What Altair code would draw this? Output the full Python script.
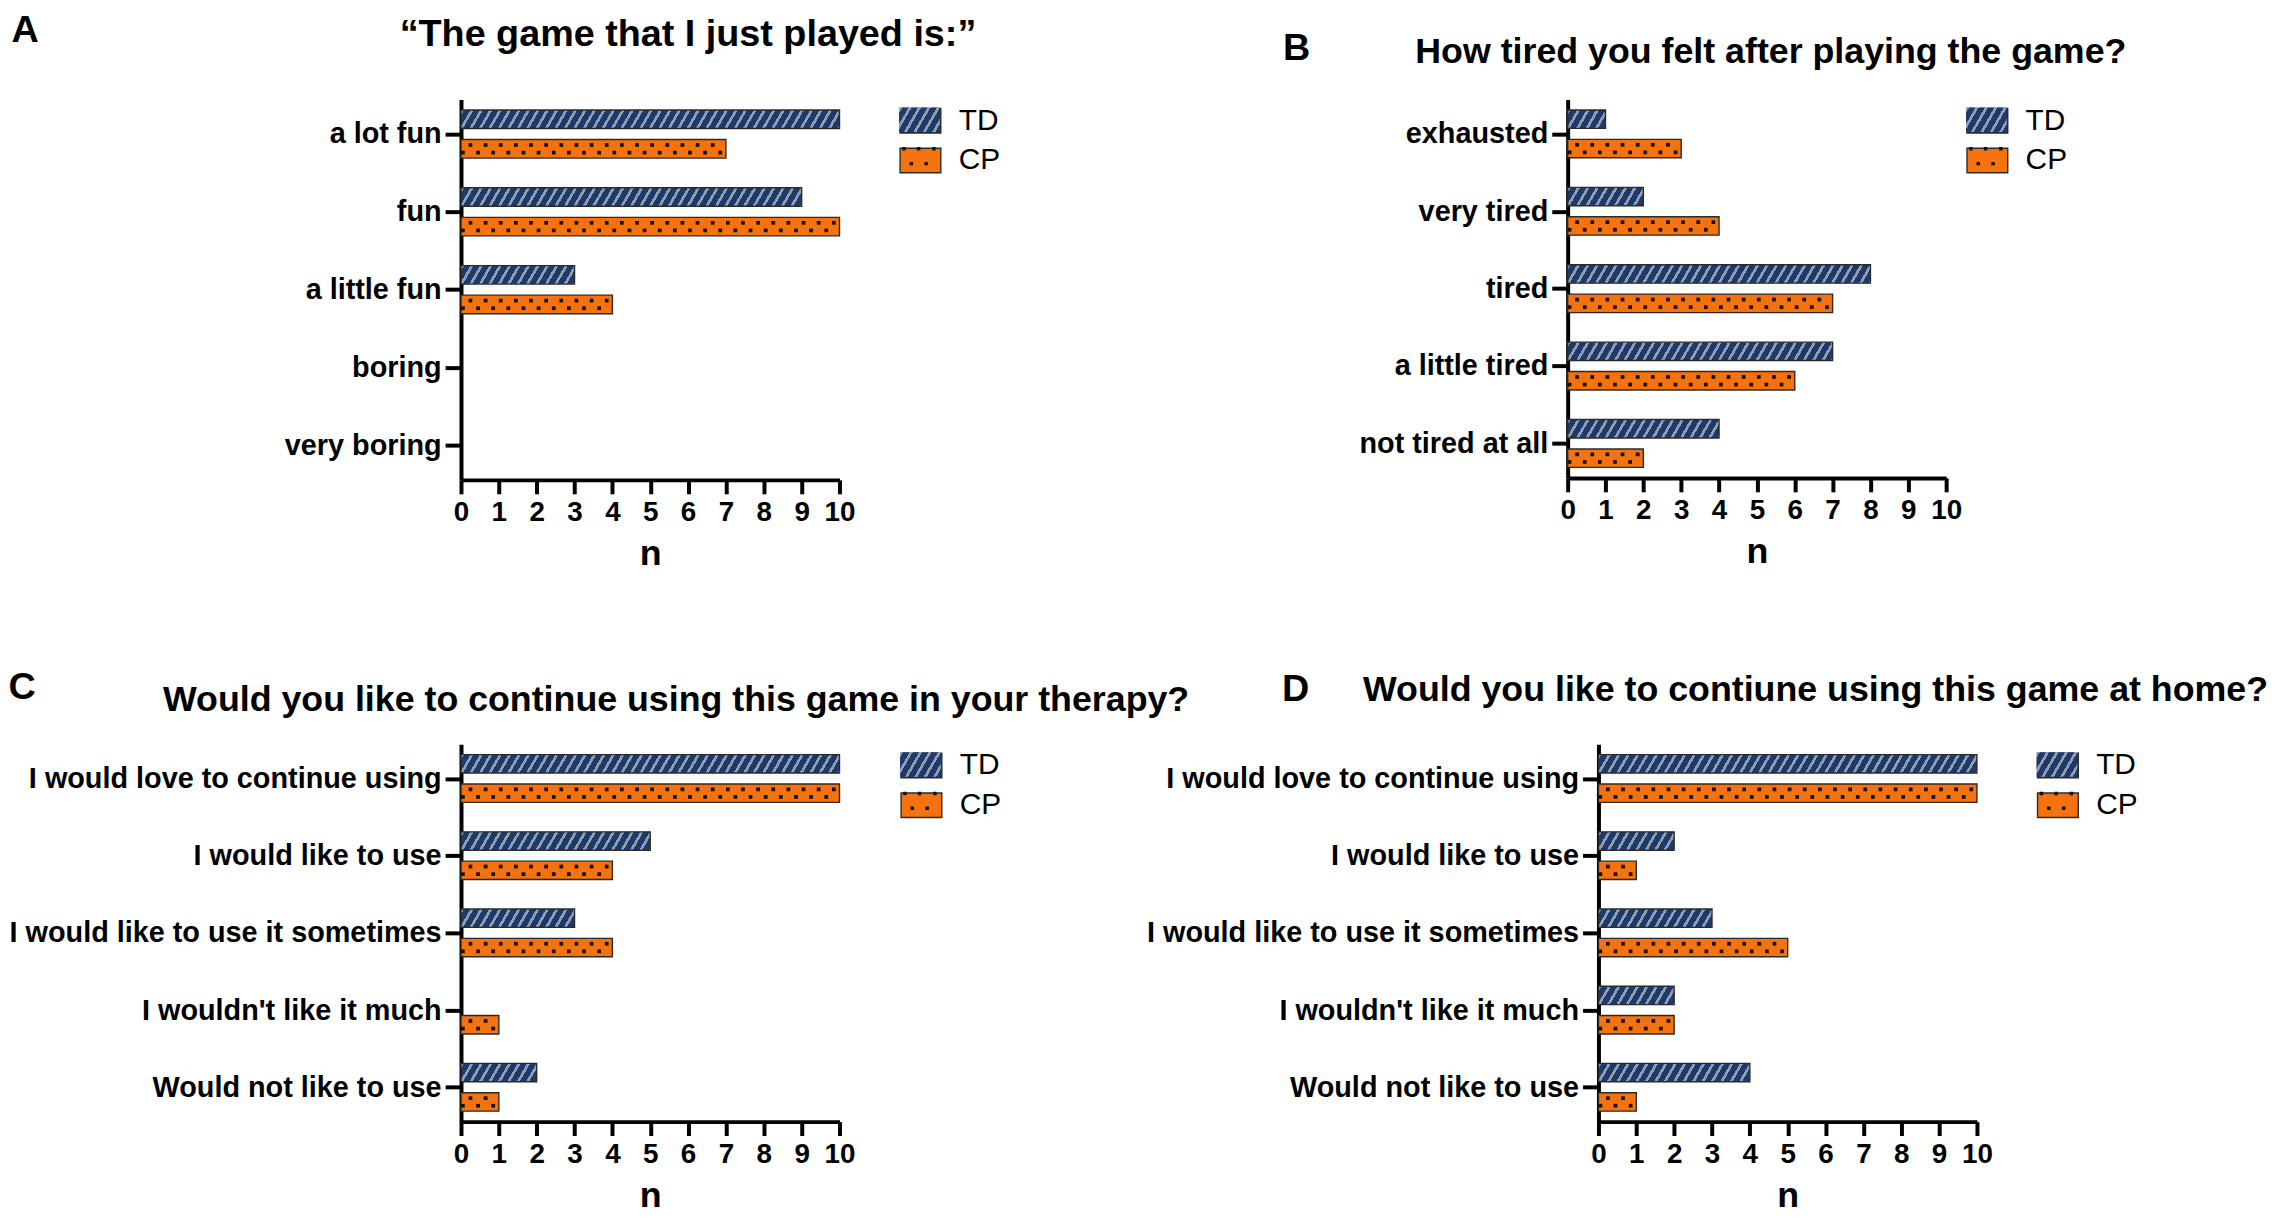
import math
import json
import altair as alt
import pandas as pd

FONT = "Liberation Sans"
NAVY = "#1d3a6e"
STRIPE = "#939dab"
ORANGE = "#f5720f"
EDGE = "#2b2b2b"
DOT = "#111111"

series = ["TD", "CP"]
x_ticks = list(range(0, 11))

# ---------------- data ----------------
a_title = "\u201cThe game that I just played is:\u201d"
a_cats = ["a lot fun", "fun", "a little fun", "boring", "very boring"]
a_td = [10, 9, 3, 0, 0]
a_cp = [7, 10, 4, 0, 0]

b_title = "How tired you felt after playing the game?"
b_cats = ["exhausted", "very tired", "tired", "a little tired", "not tired at all"]
b_td = [1, 2, 8, 7, 4]
b_cp = [3, 4, 7, 6, 2]

c_title = "Would you like to continue using this game in your therapy?"
c_cats = ["I would love to continue using", "I would like to use",
          "I would like to use it sometimes", "I wouldn't like it much",
          "Would not like to use"]
c_td = [10, 5, 3, 0, 2]
c_cp = [10, 4, 4, 1, 1]

d_title = "Would you like to contiune using this game at home?"
d_cats = ["I would love to continue using", "I would like to use",
          "I would like to use it sometimes", "I wouldn't like it much",
          "Would not like to use"]
d_td = [10, 2, 3, 2, 4]
d_cp = [10, 1, 5, 2, 1]

# ---------------- style constants ----------------
CAT_PAD = 0.445
BAR_OFF = 0.19
BAR_HALF = 0.119
DOT_ROW = 0.049
STRIPE_ANGLE = 60.0
STRIPE_PERIOD = 9.5
STRIPE_FRAC = 0.33
SW_H = 0.6
RECT_PATH = f"M-1,-{SW_H}H1V{SW_H}H-1Z"
LETTER_SIZE = 38


def dots_path(pts, d=0.085):
    return "".join(
        f"M{x - d:.3f},{y - d:.3f}h{2 * d:.3f}v{2 * d:.3f}h{-2 * d:.3f}Z" for x, y in pts
    )


LEGEND_DOTS = dots_path([(-0.76, -0.48), (-0.04, -0.48), (0.71, -0.48),
                         (-0.40, 0.25), (0.33, 0.25)])


def stripe_gradient(wpx, hpx):
    th = math.radians(STRIPE_ANGLE)
    s, c = math.sin(th), math.cos(th)
    D = wpx * s + hpx * c
    a, b = wpx * s / D, hpx * c / D
    n2 = a * a + b * b
    gx, gy = a / n2, b / n2
    p = STRIPE_PERIOD * s / D
    stops = []
    j = 0
    while j * p < 1:
        t0 = j * p
        t1 = min(1.0, t0 + STRIPE_FRAC * p)
        t2 = min(1.0, (j + 1) * p)
        stops += [
            {"offset": round(t0, 5), "color": STRIPE},
            {"offset": round(t1, 5), "color": STRIPE},
            {"offset": round(t1, 5), "color": NAVY},
            {"offset": round(t2, 5), "color": NAVY},
        ]
        j += 1
    return {"gradient": "linear", "x1": 0, "y1": 0,
            "x2": round(gx, 5), "y2": round(gy, 5), "stops": stops}


def grad_expr(g):
    stops = ",".join("{offset:%s,color:'%s'}" % (s["offset"], s["color"]) for s in g["stops"])
    return "{gradient:'linear',x1:0,y1:0,x2:%s,y2:%s,stops:[%s]}" % (g["x2"], g["y2"], stops)


LEGEND_FILL = "datum.value === 'TD' ? %s : '%s'" % (
    grad_expr(stripe_gradient(41, 2 * SW_H * 20.5)), DOT)


def panel(letter, title, cats, td, cp, W, H, lx, ly, tx, ty, gap, tsize):
    rows = []
    for i, cat in enumerate(cats):
        rows.append({"cat": cat, "idx": i, "series": "TD", "value": td[i], "key": f"TD{i}"})
        rows.append({"cat": cat, "idx": i, "series": "CP", "value": cp[i], "key": f"CP{i}"})
    df = pd.DataFrame(rows)

    unit = W / 10.0
    step = H / (4 + 2 * CAT_PAD)
    bar_h = 2 * BAR_HALF * step
    conds = [
        {"test": f"datum.key === 'TD{i}'", "value": stripe_gradient(td[i] * unit, bar_h)}
        for i in range(len(cats)) if td[i] > 0
    ]

    xs = alt.Scale(domain=[0, 10], nice=False, zero=True)
    ys = alt.Scale(domain=[-CAT_PAD, 4 + CAT_PAD], reverse=True, nice=False, zero=False)
    fs = alt.Scale(range=[NAVY, ORANGE])

    xaxis = alt.Axis(orient="bottom", values=x_ticks, format="d", title="n",
                     titleFontSize=36, titleFontWeight="bold", titleX=W / 2, titleY=85,
                     titleAlign="center", titleBaseline="alphabetic", labelFontSize=28,
                     labelFontWeight="bold", labelPadding=5, labelFlush=False,
                     labelOverlap=False, tickSize=14, tickWidth=4, domainWidth=4, grid=False)
    top_axis = alt.Axis(orient="top", title=title, titleX=tx, titleY=ty, titleAlign="center",
                        titleBaseline="alphabetic", titleFontSize=tsize,
                        titleFontWeight="bold", titleLimit=3000, domain=False, ticks=False,
                        labels=False, grid=False)
    yaxis = alt.Axis(orient="left", values=list(range(len(cats))),
                     labelExpr=json.dumps(cats) + "[datum.value]",
                     title=letter, titleAngle=0, titleX=lx, titleY=ly, titleAlign="left",
                     titleBaseline="alphabetic", titleFontSize=LETTER_SIZE,
                     titleFontWeight="bold", labelFontSize=29, labelFontWeight="bold",
                     labelPadding=4, labelLimit=900, tickSize=16, tickWidth=4,
                     domainWidth=4, grid=False)

    leg_common = dict(orient="none", legendX=W + gap, legendY=0, direction="vertical",
                      title=None, padding=0, rowPadding=3, symbolSize=1681,
                      symbolOpacity=1, labelFontSize=30, labelOffset=17)
    leg1 = alt.Legend(symbolType=RECT_PATH, symbolStrokeColor=EDGE, symbolStrokeWidth=1.4,
                      labelFontWeight="normal", labelColor="black", zindex=1, **leg_common)
    leg2 = alt.Legend(symbolStrokeWidth=0, symbolFillColor=alt.ExprRef(LEGEND_FILL),
                      labelExpr="''", zindex=2, **leg_common)

    base = alt.Chart(df)
    bars = base.transform_filter("datum.value > 0").transform_calculate(
        yc=f"datum.idx + (datum.series === 'TD' ? {-BAR_OFF} : {BAR_OFF})"
    ).transform_calculate(
        y_lo=f"datum.yc - {BAR_HALF}", y_hi=f"datum.yc + {BAR_HALF}", x0="0"
    ).mark_rect(stroke=EDGE, strokeWidth=1.4).encode(
        x=alt.X("x0:Q", scale=xs, axis=xaxis),
        x2="value:Q",
        y=alt.Y("y_lo:Q", scale=ys, axis=yaxis),
        y2="y_hi:Q",
        fill=alt.Fill("series:N", sort=series, scale=fs, legend=leg1, condition=conds),
    )

    dots = base.transform_filter("datum.series === 'CP' && datum.value > 0").transform_calculate(
        ndots="floor((datum.value - 0.05) / 0.2 + 0.0001) + 1"
    ).transform_calculate(
        k="sequence(0, datum.ndots)"
    ).transform_flatten(["k"]).transform_calculate(
        dx="0.05 + 0.2 * datum.k",
        dy=f"datum.idx + {BAR_OFF} + (datum.k % 2 === 0 ? {DOT_ROW} : {-DOT_ROW})",
    ).mark_square(size=14, color=DOT, opacity=1, strokeWidth=0).encode(
        x=alt.X("dx:Q", scale=xs, axis=top_axis),
        y=alt.Y("dy:Q", scale=ys, axis=yaxis),
    )

    guide = base.transform_filter("false").mark_point(
        filled=True, opacity=1, strokeWidth=0
    ).encode(
        fill=alt.Fill("series:N", sort=series, scale=fs, legend=leg1),
        shape=alt.Shape("series:N", scale=alt.Scale(domain=series,
                                                    range=[RECT_PATH, LEGEND_DOTS]),
                        legend=leg2),
    )

    return alt.layer(bars, dots, guide).properties(width=W, height=H)


pA = panel("A", a_title, a_cats, a_td, a_cp, 381, 383, -453, -58, 228, -54, 60, 38)
pB = panel("B", b_title, b_cats, b_td, b_cp, 381, 381, -287, -40, 204, -37, 20, 36)
pC = panel("C", c_title, c_cats, c_td, c_cp, 381, 380, -456, -46, 216, -34, 61, 36)
pD = panel("D", d_title, d_cats, d_td, d_cp, 381, 380, -319, -44, 218, -44, 60, 36)

# flow layout: panels of the first row are placed by their full bounds (letter/title tops)
row1 = alt.concat(pA, pB, columns=2, spacing=284, align="none").resolve_scale(
    fill="independent", shape="independent")
row2 = alt.hconcat(pC, pD, spacing=-44).resolve_scale(fill="independent", shape="independent")

chart = alt.vconcat(row1, row2, spacing=98).resolve_scale(
    fill="independent", shape="independent"
).properties(
    padding={"left": 0, "top": 0, "right": 2, "bottom": 2}
).configure(font=FONT).configure_view(stroke=None).configure_axis(
    domainColor="black", tickColor="black", labelColor="black", titleColor="black"
)

chart.save("out.html", embed_options={"renderer": "svg", "actions": False})
